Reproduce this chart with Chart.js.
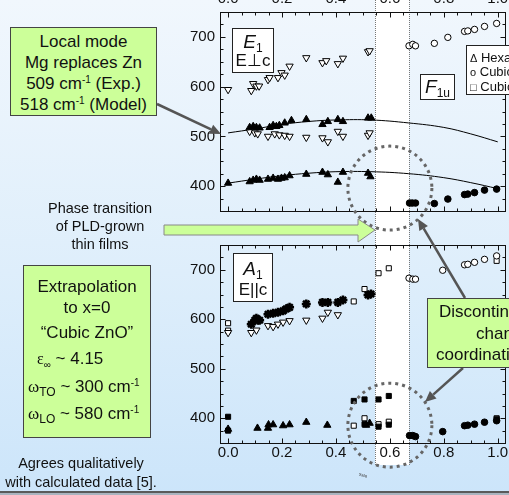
<!DOCTYPE html>
<html>
<head>
<meta charset="utf-8">
<script src="https://cdn.jsdelivr.net/npm/chart.js@4.4.0/dist/chart.umd.min.js"></script>
<style>
  html, body { margin: 0; padding: 0; }
  body { width: 509px; height: 495px; overflow: hidden; font-family: "Liberation Sans", Arial, sans-serif; color: #111; }
  #stage { position: relative; width: 509px; height: 495px; overflow: hidden;
    background: linear-gradient(to bottom, #f1f7fd 0%, #deeefb 55%, #cce5fa 100%); }
  canvas { position: absolute; }
  .note { position: absolute; background: #ccff99; border: 1px solid #444; box-sizing: border-box; }
  .lbl { position: absolute; background: #fff; border: 1px solid #222; box-sizing: border-box; text-align: center; }
  .ln { position: absolute; left: 0; right: 0; text-align: center; white-space: nowrap; }
  .serif { font-family: "Liberation Serif", "DejaVu Serif", serif; }
  sup { font-size: 10px; vertical-align: 6px; line-height: 0; }
  sub { font-size: 12px; vertical-align: -4px; line-height: 0; }
</style>
</head>
<body>
<div id="stage">
  <div id="band" style="position:absolute;top:0;height:465px;background:#fff;"></div>
  <div id="bandL" style="position:absolute;top:0;height:465px;border-left:1px dotted #777;"></div>
  <div id="bandR" style="position:absolute;top:0;height:465px;border-left:1px dotted #777;"></div>

  <canvas id="topChart" width="420" height="275" style="left:150px;top:-40px;"></canvas>
  <canvas id="bottomChart" width="420" height="265" style="left:150px;top:230px;"></canvas>

  <svg id="arrows" width="509" height="495" style="position:absolute;left:0;top:0;">
    <polygon points="164,225 358,225 358,219 375,230 358,242 358,235 164,235" fill="#ccff99" stroke="#888" stroke-width="1"/>
  </svg>

  <!-- annotation boxes -->
  <div class="note" style="left:10px;top:27px;width:147px;height:89px;font-size:17px;line-height:21px;padding-top:3px;text-align:center;">
    Local mode<br>Mg replaces Zn<br>509 cm<sup>-1</sup> (Exp.)<br>518 cm<sup>-1</sup> (Model)
  </div>

  <div style="position:absolute;left:30px;width:140px;top:199px;font-size:14.5px;line-height:18px;text-align:center;">
    Phase transition<br>of PLD-grown<br>thin films
  </div>

  <div class="note" style="left:23px;top:265px;width:128px;height:173px;font-size:17px;">
    <div class="ln" style="top:11px;line-height:20px;">Extrapolation</div>
    <div class="ln" style="top:32px;line-height:20px;">to x=0</div>
    <div class="ln" style="top:57px;line-height:20px;">“Cubic ZnO”</div>
    <div class="ln" style="top:83px;line-height:20px;left:13px;text-align:left;"><span class="serif" style="font-size:16px;">ε</span><sub style="font-size:10px;">∞</sub> ~ 4.15</div>
    <div class="ln" style="top:111px;line-height:20px;left:4px;text-align:left;"><span class="serif">ω</span><sub>TO</sub> ~ 300 cm<sup>-1</sup></div>
    <div class="ln" style="top:138px;line-height:20px;left:4px;text-align:left;"><span class="serif">ω</span><sub>LO</sub> ~ 580 cm<sup>-1</sup></div>
  </div>

  <div style="position:absolute;left:0px;width:162px;top:454px;font-size:14.5px;line-height:19px;text-align:center;">
    Agrees qualitatively<br>with calculated data [5].
  </div>

  <div class="note" style="left:427px;top:298px;width:140px;height:70px;font-size:17px;">
    <div style="position:absolute;left:11px;top:3px;line-height:20px;white-space:nowrap;">Discontinuous</div>
    <div style="position:absolute;left:48px;top:25px;line-height:20px;white-space:nowrap;">change of</div>
    <div style="position:absolute;left:8px;top:46px;line-height:20px;white-space:nowrap;">coordination</div>
  </div>

  <div class="lbl" style="left:232px;top:28px;width:42px;height:45px;">
    <div class="ln" style="top:2px;line-height:22px;font-size:19px;"><i>E</i><sub>1</sub></div>
    <div class="ln" style="top:22px;line-height:20px;font-size:17px;">E⊥c</div>
  </div>
  <div class="lbl" style="left:233px;top:253px;width:40px;height:49px;">
    <div class="ln" style="top:4px;line-height:22px;font-size:19px;"><i>A</i><sub>1</sub></div>
    <div class="ln" style="top:26px;line-height:20px;font-size:17px;">E||c</div>
  </div>
  <div class="lbl" style="left:420px;top:74px;width:35px;height:26px;">
    <div class="ln" style="top:1px;line-height:22px;font-size:19px;"><i>F</i><sub>1u</sub></div>
  </div>
  <div class="lbl" style="left:466px;top:45px;width:90px;height:50px;text-align:left;font-size:13px;">
    <div style="position:absolute;left:3px;top:4px;line-height:15px;white-space:nowrap;"><span style="font-size:11px;">Δ</span> Hexagonal</div>
    <div style="position:absolute;left:3px;top:18px;line-height:15px;white-space:nowrap;"><span style="font-size:11px;">o</span> Cubic</div>
    <div style="position:absolute;left:3px;top:33px;line-height:15px;white-space:nowrap;"><span style="font-size:11px;">□</span> Cubic</div>
  </div>

  <div style="position:absolute;left:359px;top:471px;font-size:5px;color:#444;">x<sub style="font-size:4px;vertical-align:-1px;">Mg</sub></div>

  <div style="position:absolute;left:0;top:491px;width:509px;height:2px;background:#5a5a5a;"></div>
  <div style="position:absolute;left:0;top:493px;width:509px;height:2px;background:#a9b4bf;"></div>
</div>

<script>
// x = Mg content, y = phonon frequency (cm-1)
const xTickValues = [0, 0.2, 0.4, 0.6, 0.8, 1.0];
const yTickValues = [400, 500, 600, 700];
const phaseBand = [0.544, 0.670];

// upper panel: E1 (E perp c) and F1u
const e1OpenTri = [[0,594],[0.086,592],[0.093,606],[0.105,601],[0.115,601],[0.148,614],[0.154,618],[0.185,618],[0.198,628],
  [0.21,623],[0.228,641],[0.29,658],[0.35,648],[0.364,652],[0.407,646],[0.426,657],[0.519,670],[0.525,672],
  [0.08,510],[0.099,507],[0.11,505],[0.148,500],[0.173,505],[0.19,503],[0.21,502],[0.228,500],[0.29,498],
  [0.35,497],[0.37,489],[0.407,510],[0.426,500],[0.519,502],[0.525,507]];
const e1FilledTri = [[0.08,518],[0.093,520],[0.105,518],[0.117,517],[0.154,518],[0.167,522],[0.179,520],[0.19,522],
  [0.21,527],[0.235,532],[0.29,534],[0.35,524],[0.37,530],[0.407,534],[0.426,530],[0.519,537],[0.531,537],
  [0,406],[0.08,409],[0.093,412],[0.105,414],[0.117,412],[0.148,414],[0.167,416],[0.185,414],[0.198,416],
  [0.21,417],[0.228,421],[0.29,424],[0.35,428],[0.37,423],[0.407,408],[0.426,428],[0.519,426],[0.528,419]];
const f1uOpenCirc = [[0.671,682],[0.685,685],[0.695,682],[0.765,687],[0.815,699],[0.877,711],[0.889,712],[0.914,715],[0.951,721],[0.996,727]];
const f1uFilledCirc = [[0.673,366],[0.683,366],[0.695,366],[0.765,365],[0.815,374],[0.877,383],[0.889,384],[0.914,387],[0.951,392],[0.996,394]];
const e1FitHigh = [[0,507],[0.1,515],[0.2,524],[0.3,530],[0.4,533],[0.53,533],[0.67,527],[0.8,518],[0.9,505],[1.0,489]];
const e1FitLow = [[0,406],[0.1,414],[0.2,421],[0.3,426],[0.4,429],[0.53,429],[0.67,425],[0.8,417],[0.9,407],[1.0,395]];

// lower panel: A1 (E || c)
const a1OpenSq = [[0,592],[0,577],[0.466,636],[0.506,661],[0.558,693],[0.596,703],[0.996,718],
  [0.466,385],[0.506,400],[0.558,388],[0.596,393],[0.996,400]];
const a1FilledSq = [[0,403],[0,375],[0.466,435],[0.506,438],[0.558,438],[0.596,445],[0.506,388],[0.558,383],[0.596,387],[0.996,398]];
const a1FilledTri = [[0,378],[0.109,380],[0.148,380],[0.15,387],[0.167,387],[0.204,385],[0.228,387],[0.29,392],[0.368,386],[0.512,386],[0.525,390]];
const a1OpenTri = [[0,573],[0.086,573],[0.105,578],[0.148,587],[0.167,585],[0.185,590],[0.204,594],[0.228,597],[0.29,598],[0.35,602],[0.37,614],[0.407,609]];
const a1Star = [[0.086,590],[0.099,598],[0.105,602],[0.11,598],[0.117,598],[0.148,610],[0.167,612],[0.185,614],[0.204,617],
  [0.216,621],[0.228,624],[0.29,631],[0.35,634],[0.37,634],[0.407,634],[0.426,639],[0.519,649],[0.53,651]];
const a1OpenCirc = [[0.671,683],[0.685,681],[0.695,681],[0.796,699],[0.877,710],[0.889,711],[0.914,715],[0.951,721],[0.996,728]];
const a1FilledCirc = [[0.673,365],[0.685,365],[0.695,363],[0.796,373],[0.877,385],[0.889,386],[0.914,388],[0.951,392],[0.996,395]];

const FONT = '"Liberation Sans", Arial, sans-serif';
const pts = arr => arr.map(([x, y]) => ({ x, y }));

function marks(data, style, fill, radius) {
  return {
    data: pts(data),
    pointStyle: style,
    pointRadius: radius,
    pointBackgroundColor: fill ? '#000' : '#fff',
    pointBorderColor: '#000',
    pointBorderWidth: 1,
    showLine: false
  };
}

function fitLine(data) {
  return { data: pts(data), showLine: true, pointRadius: 0, borderColor: '#000', borderWidth: 1, tension: 0.4, fill: false };
}

// frame with inward ticks + dotted ring
const framePlugin = {
  id: 'frame',
  afterDatasetsDraw(chart, args, opts) {
    const { ctx, chartArea: a, scales: { x, y } } = chart;
    ctx.save();
    ctx.strokeStyle = '#111';
    ctx.lineWidth = 1;
    const L = Math.round(a.left) + 0.5, R = Math.round(a.right) + 0.5;
    const T = Math.round(a.top) + 0.5, B = Math.round(a.bottom) + 0.5;
    ctx.strokeRect(L, T, R - L, B - T);
    ctx.beginPath();
    for (let i = 0; i <= 20; i++) {
      const v = i * 0.05;
      const px = Math.round(x.getPixelForValue(v)) + 0.5;
      const len = i % 4 === 0 ? 5 : 3;
      ctx.moveTo(px, T); ctx.lineTo(px, T + len);
      ctx.moveTo(px, B); ctx.lineTo(px, B - len);
    }
    for (let v = 375; v < 750; v += 25) {
      const py = Math.round(y.getPixelForValue(v)) + 0.5;
      const len = v % 100 === 0 ? 5 : 3;
      ctx.moveTo(L, py); ctx.lineTo(L + len, py);
      ctx.moveTo(R, py); ctx.lineTo(R - len, py);
    }
    ctx.stroke();

    if (opts.ring) {
      const cx = x.getPixelForValue(opts.ring[0]);
      const cy = y.getPixelForValue(opts.ring[1]);
      ctx.beginPath();
      ctx.setLineDash([3, 4]);
      ctx.lineWidth = 3;
      ctx.strokeStyle = '#666';
      ctx.arc(cx, cy, 42, 0, Math.PI * 2);
      ctx.stroke();
    }
    ctx.restore();
  }
};

function makePanel(id, datasets, xPos, xHeight, padding, ring, tickPad) {
  return new Chart(document.getElementById(id), {
    type: 'scatter',
    data: { datasets },
    plugins: [framePlugin],
    options: {
      responsive: false,
      animation: false,
      devicePixelRatio: 1,
      layout: { padding },
      plugins: { legend: { display: false }, tooltip: { enabled: false }, frame: { ring } },
      scales: {
        x: {
          type: 'linear', position: xPos, min: -0.03, max: 1.027,
          grid: { display: false, drawTicks: false }, border: { display: false },
          afterBuildTicks: s => { s.ticks = xTickValues.map(v => ({ value: v })); },
          afterFit: s => { s.height = xHeight; },
          ticks: { padding: tickPad, color: '#111', font: { family: FONT, size: 15 }, maxRotation: 0, autoSkip: false,
            callback: v => Number(v).toFixed(1) }
        },
        y: {
          type: 'linear', min: 350, max: 750,
          grid: { display: false, drawTicks: false }, border: { display: false },
          afterBuildTicks: s => { s.ticks = yTickValues.map(v => ({ value: v })); },
          afterFit: s => { s.width = 70; },
          ticks: { padding: 5, color: '#111', font: { family: FONT, size: 15 }, autoSkip: false }
        }
      }
    }
  });
}

const topChart = makePanel('topChart', [
  fitLine(e1FitHigh),
  fitLine(e1FitLow),
  { ...marks(e1OpenTri, 'triangle', false, 4.2), pointRotation: 180 },
  marks(e1FilledTri, 'triangle', true, 4.2),
  marks(f1uOpenCirc, 'circle', false, 3.2),
  marks(f1uFilledCirc, 'circle', true, 3.3)
], 'top', 52, { left: 0, right: 65, top: 0, bottom: 24 }, [0.6, 396], 4);

const bottomChart = makePanel('bottomChart', [
  { ...marks(a1OpenTri, 'triangle', false, 4.2), pointRotation: 180 },
  { ...marks(a1Star, 'star', true, 4.5), pointBorderWidth: 2.5 },
  marks(a1FilledTri, 'triangle', true, 4.2),
  marks(a1OpenCirc, 'circle', false, 3.2),
  marks(a1FilledCirc, 'circle', true, 3.3),
  marks(a1FilledSq, 'rect', true, 3.6),
  marks(a1OpenSq, 'rect', false, 3.6)
], 'bottom', 40, { left: 0, right: 65, top: 15, bottom: 12 }, [0.6, 386], 1);

// white phase-transition band placed from the x scale
const xs = topChart.scales.x;
const bL = 150 + xs.getPixelForValue(phaseBand[0]);
const bR = 150 + xs.getPixelForValue(phaseBand[1]);
const band = document.getElementById('band');
band.style.left = bL + 'px';
band.style.width = (bR - bL) + 'px';
document.getElementById('bandL').style.left = Math.round(bL) + 'px';
document.getElementById('bandR').style.left = Math.round(bR) + 'px';

// gray pointer arrows
const svg = document.getElementById('arrows');
function arrow(x1, y1, x2, y2) {
  const ang = Math.atan2(y2 - y1, x2 - x1);
  const hl = 11, hw = 5;
  const bx = x2 - hl * Math.cos(ang), by = y2 - hl * Math.sin(ang);
  const line = document.createElementNS('http://www.w3.org/2000/svg', 'line');
  line.setAttribute('x1', x1); line.setAttribute('y1', y1);
  line.setAttribute('x2', bx); line.setAttribute('y2', by);
  line.setAttribute('stroke', '#555'); line.setAttribute('stroke-width', '2.5');
  svg.appendChild(line);
  const head = document.createElementNS('http://www.w3.org/2000/svg', 'polygon');
  const p1 = [bx + hw * Math.sin(ang), by - hw * Math.cos(ang)];
  const p2 = [bx - hw * Math.sin(ang), by + hw * Math.cos(ang)];
  head.setAttribute('points', `${x2},${y2} ${p1[0]},${p1[1]} ${p2[0]},${p2[1]}`);
  head.setAttribute('fill', '#555');
  svg.appendChild(head);
}
arrow(157, 104, 221, 134);
arrow(465, 298, 418, 219);
arrow(463, 368, 425, 402);
</script>
</body>
</html>
